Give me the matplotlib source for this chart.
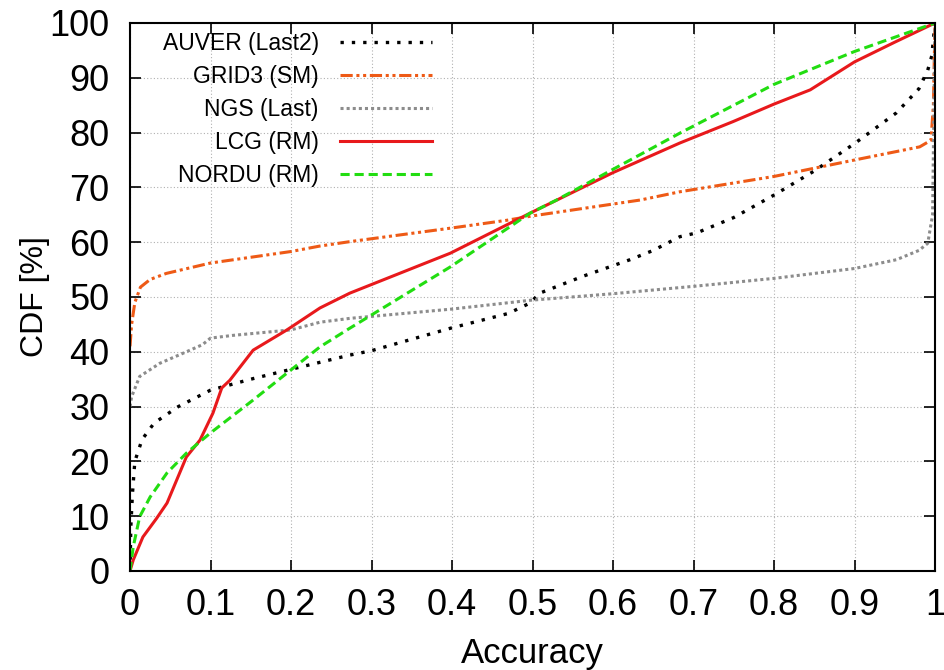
import matplotlib.pyplot as plt

plt.rcParams['font.family'] = ['Liberation Sans', 'DejaVu Sans']

auver_x = [0, 0.001, 0.003, 0.006, 0.015, 0.03, 0.06, 0.1, 0.15, 0.2, 0.273, 0.3, 0.398, 0.47, 0.497, 0.509,
           0.563, 0.621, 0.65, 0.683, 0.704, 0.75, 0.8, 0.85, 0.9, 0.952, 0.98, 0.991, 0.996, 1.0]
auver_y = [0, 8, 14, 20, 24, 27, 30, 33, 35, 36.8, 39.4, 40.2, 44.3, 47, 48.9, 50.7,
           53.8, 56.8, 58.5, 61, 61.7, 64.5, 68.6, 73, 78, 83.6, 88, 91.4, 94, 100]

grid3_x = [0, 0.002, 0.006, 0.013, 0.025, 0.045, 0.1, 0.2, 0.236, 0.273, 0.4, 0.468, 0.5, 0.634,
           0.683, 0.8, 0.9, 0.981, 0.995, 0.998, 1.0]
grid3_y = [41, 45, 49, 51.8, 53.2, 54.3, 56.2, 58.3, 59.3, 60.1, 62.6, 64, 64.8, 67.7,
           69.2, 72, 75, 77.4, 78.6, 85, 100]

ngs_x = [0, 0.002, 0.012, 0.037, 0.07, 0.09, 0.1, 0.128, 0.2, 0.236, 0.273, 0.4, 0.497, 0.6,
         0.704, 0.8, 0.9, 0.952, 0.98, 0.991, 0.997, 1.0]
ngs_y = [30, 31.8, 35.5, 37.9, 40, 41.3, 42.5, 43, 44, 45.4, 46.1, 47.8, 49.4, 50.6,
         52, 53.4, 55.2, 56.8, 58.5, 59.8, 65, 100]

lcg_x = [0, 0.004, 0.016, 0.033, 0.046, 0.07, 0.087, 0.103, 0.114, 0.124, 0.153, 0.195, 0.236,
         0.273, 0.398, 0.497, 0.6, 0.683, 0.749, 0.8, 0.845, 0.9, 0.95, 1.0]
lcg_y = [0, 2, 6.2, 9.6, 12.4, 20.8, 23.9, 28.8, 33.4, 34.8, 40.3, 44, 48,
         50.7, 58, 65.3, 72.7, 78.1, 82, 85.2, 87.8, 92.9, 96.5, 100]

nordu_x = [0, 0.004, 0.012, 0.025, 0.046, 0.07, 0.1, 0.153, 0.2, 0.236, 0.273, 0.398, 0.497,
           0.53, 0.6, 0.683, 0.8, 0.9, 1.0]
nordu_y = [0, 4.4, 9.9, 13.5, 17.9, 21.5, 25.2, 31.2, 36.7, 40.9, 44.3, 55.5, 65.3,
           67.7, 73.3, 79.9, 88.8, 94.8, 100]

fig = plt.figure(figsize=(9.44, 6.7), dpi=100)
ax = fig.add_axes([130 / 944, 1 - 571 / 670, 805 / 944, 548 / 670])

ax.plot(auver_x, auver_y, color='black', linestyle=(0, (1, 2.4)), linewidth=2.4, label='AUVER (Last2)')
ax.plot(grid3_x, grid3_y, color='#ee5a16', linestyle=(0, (4, 1.2, 1, 1.2, 1, 1.2)), linewidth=2.2,
        label='GRID3 (SM)')
ax.plot(ngs_x, ngs_y, color='#8c8c8c', linestyle=(0, (1, 1)), linewidth=2.2, label='NGS (Last)')
ax.plot(lcg_x, lcg_y, color='#e8191c', linewidth=2.2, label='LCG (RM)')
ax.plot(nordu_x, nordu_y, color='#22dd11', linestyle=(0, (3, 1.6)), linewidth=2.2, label='NORDU (RM)')

ax.set_xlim(0, 1)
ax.set_ylim(0, 100)
ax.set_xticks([0, 0.1, 0.2, 0.3, 0.4, 0.5, 0.6, 0.7, 0.8, 0.9, 1])
ax.set_xticklabels(['0', '0.1', '0.2', '0.3', '0.4', '0.5', '0.6', '0.7', '0.8', '0.9', '1'])
ax.set_yticks(range(0, 101, 10))
ax.tick_params(direction='in', top=True, right=True, labelsize=26, length=8, width=1.2, pad=12)
ax.tick_params(axis='y', pad=15)
ax.grid(True, color='#b0b0b0', linestyle=(0, (1, 2)), linewidth=0.8)
for s in ax.spines.values():
    s.set_linewidth(1.5)

ax.set_xlabel('Accuracy', fontsize=25, labelpad=10)
ax.set_ylabel('CDF [%]', fontsize=23, labelpad=-1)

ax.legend(loc='upper left', frameon=False, markerfirst=False, fontsize=16.5, handlelength=4,
          labelspacing=0.43, borderaxespad=0.0, bbox_to_anchor=(0.029, 1.0), handletextpad=0.95)

fig.savefig('out.png', dpi=100)
